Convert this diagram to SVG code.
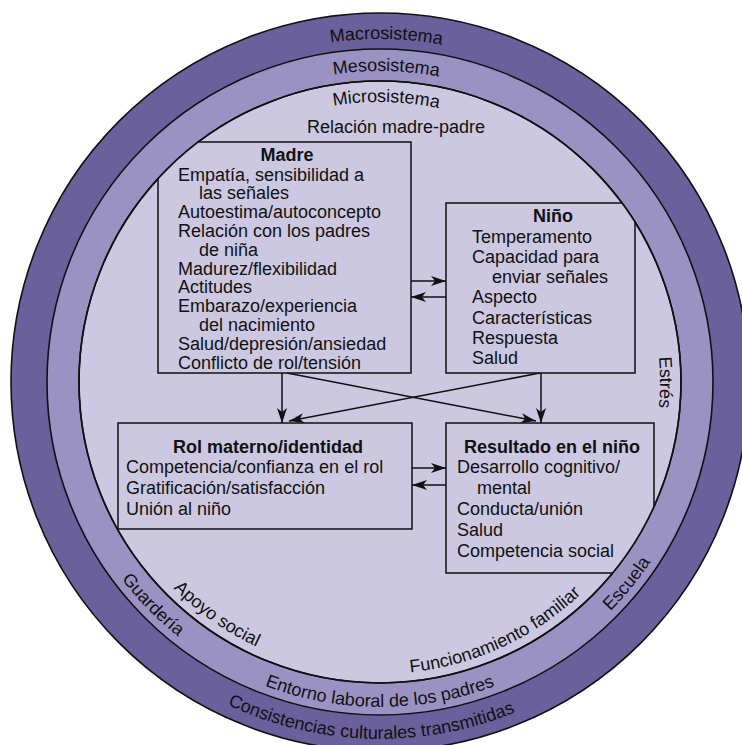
<svg xmlns="http://www.w3.org/2000/svg" width="742" height="745" viewBox="0 0 742 745">
<style>
text{font-family:"Liberation Sans",Arial,sans-serif;font-size:18px;fill:#111}
.b{font-weight:bold}
.m{text-anchor:middle}
.box{fill:#ccc8e1;stroke:#111;stroke-width:1.5}
.ring{stroke:#111;stroke-width:1.6}
.node{clip-path:url(#inner)}
.conn line{stroke:#111;stroke-width:1.5;marker-end:url(#ah)}
</style>
<defs>
<clipPath id="inner"><circle cx="380" cy="382" r="301"/></clipPath>
<marker id="ah" markerUnits="userSpaceOnUse" markerWidth="15" markerHeight="10" refX="15" refY="5" orient="auto">
<path d="M0,0 L15,5 L0,10 L4,5 z" fill="#111"/>
</marker>
<path id="macroTop" d="M 37 382 A 343 343 0 0 1 723 382"/>
<path id="mesoTop" d="M 69 382 A 311 311 0 0 1 691 382"/>
<path id="microFull" d="M 100 382 A 280 280 0 0 1 660 382 A 280 280 0 0 1 100 382"/>
<path id="macroBot" d="M 23 382 A 357 357 0 0 0 737 382"/>
<path id="mesoBot" d="M 55 382 A 325 325 0 0 0 705 382"/>
<path id="microBot" d="M 88 382 A 292 292 0 0 0 672 382"/>
</defs>
<rect width="742" height="745" fill="#fff"/>
<g id="rings">
<circle class="ring" cx="380" cy="382" r="369" fill="#6a609b"/>
<circle class="ring" cx="380" cy="382" r="333" fill="#9b92c4"/>
<circle class="ring" cx="380" cy="382" r="301" fill="#ccc8e1"/>
<text class="m"><textPath href="#macroTop" startOffset="544.8">Macrosistema</textPath></text>
<text class="m"><textPath href="#mesoTop" startOffset="494.5">Mesosistema</textPath></text>
<text class="m"><textPath href="#microFull" startOffset="445.8">Microsistema</textPath></text>
<text class="m"><textPath href="#microFull" startOffset="879.6">Estrés</textPath></text>
<text class="m"><textPath href="#macroBot" startOffset="551">Consistencias culturales transmitidas</textPath></text>
<text class="m"><textPath href="#mesoBot" startOffset="510">Entorno laboral de los padres</textPath></text>
<text class="m"><textPath href="#mesoBot" startOffset="252">Guardería</textPath></text>
<text class="m"><textPath href="#mesoBot" startOffset="798">Escuela</textPath></text>
<text class="m"><textPath href="#microBot" startOffset="584.6">Funcionamiento familiar</textPath></text>
<text class="m"><textPath href="#microBot" startOffset="280">Apoyo social</textPath></text>
<text class="m" x="396" y="133">Relación madre-padre</text>
</g>
<g id="madre" class="node">
<rect class="box" x="158" y="142" width="253" height="231"/>
<text class="b m" x="287" y="160.5">Madre</text>
<text x="178" y="180.5">Empatía, sensibilidad a</text>
<text x="199" y="199">las señales</text>
<text x="178" y="218">Autoestima/autoconcepto</text>
<text x="178" y="237">Relación con los padres</text>
<text x="199" y="256">de niña</text>
<text x="178" y="274.5">Madurez/flexibilidad</text>
<text x="178" y="293">Actitudes</text>
<text x="178" y="312">Embarazo/experiencia</text>
<text x="199" y="331">del nacimiento</text>
<text x="178" y="350">Salud/depresión/ansiedad</text>
<text x="178" y="369">Conflicto de rol/tensión</text>
</g>
<g id="nino" class="node">
<rect class="box" x="446" y="203" width="189" height="170"/>
<text class="b m" x="553" y="222">Niño</text>
<text x="472" y="243">Temperamento</text>
<text x="472" y="263">Capacidad para</text>
<text x="492" y="283">enviar señales</text>
<text x="472" y="303">Aspecto</text>
<text x="472" y="324">Características</text>
<text x="472" y="344">Respuesta</text>
<text x="472" y="364">Salud</text>
</g>
<g id="rol" class="node">
<rect class="box" x="118" y="423" width="294" height="106"/>
<text class="b m" x="268" y="453">Rol materno/identidad</text>
<text x="126" y="473">Competencia/confianza en el rol</text>
<text x="126" y="494">Gratificación/satisfacción</text>
<text x="126" y="515">Unión al niño</text>
</g>
<g id="resultado" class="node">
<rect class="box" x="446" y="423" width="208" height="150"/>
<text class="b m" x="552" y="453">Resultado en el niño</text>
<text x="457" y="473">Desarrollo cognitivo/</text>
<text x="477" y="494">mental</text>
<text x="457" y="515">Conducta/unión</text>
<text x="457" y="536">Salud</text>
<text x="457" y="557">Competencia social</text>
</g>
<g id="ring-edge">
<circle class="ring" cx="380" cy="382" r="301" fill="none"/>
</g>
<g id="connectors" class="conn">
<line x1="411" y1="281" x2="446" y2="281"/>
<line x1="446" y1="297" x2="411" y2="297"/>
<line x1="282" y1="373" x2="282" y2="423"/>
<line x1="541" y1="373" x2="541" y2="423"/>
<line x1="287" y1="373" x2="536" y2="421"/>
<line x1="540" y1="373" x2="289" y2="421"/>
<line x1="412" y1="468" x2="446" y2="468"/>
<line x1="446" y1="485" x2="412" y2="485"/>
</g>
</svg>
